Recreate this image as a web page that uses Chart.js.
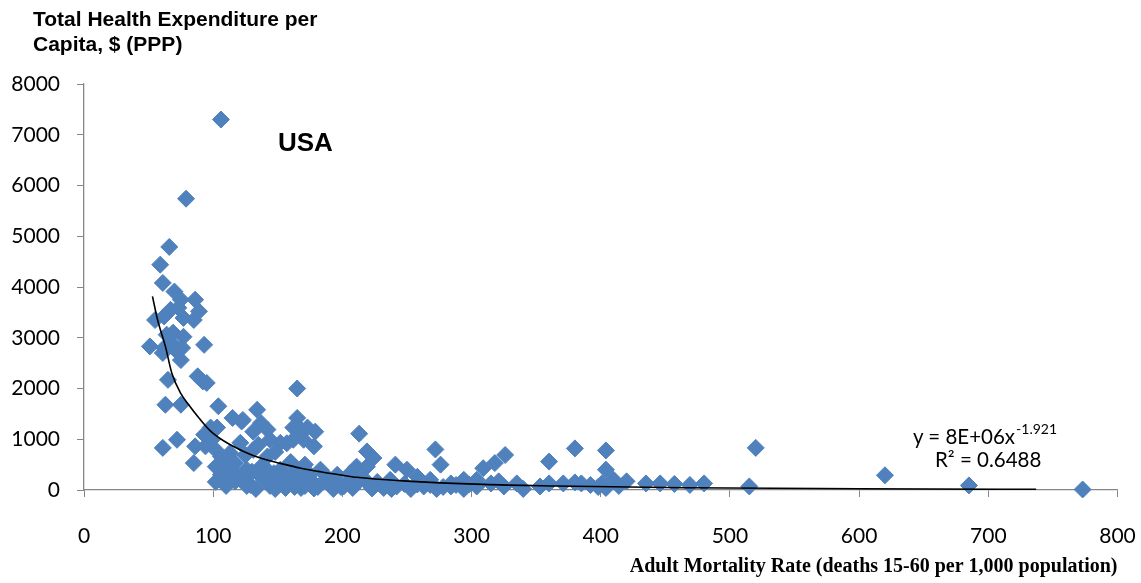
<!DOCTYPE html>
<html>
<head>
<meta charset="utf-8">
<script src="https://cdn.jsdelivr.net/npm/chart.js@4.4.1/dist/chart.umd.min.js"></script>
<style>
  body { margin: 0; background: #fff; }
  #wrap { position: relative; width: 1141px; height: 583px; }
  .lbl { position: absolute; white-space: nowrap; color: #000; }
  #ytitle { left: 33px; top: 7px; font: bold 21px 'Liberation Sans', Arial, sans-serif; line-height: 24.5px; }
  #usa { left: 278px; top: 129px; font: bold 26px 'Liberation Sans', Arial, sans-serif; line-height: 26px; }
  .eq { font: 20.5px Lato, sans-serif; line-height: 22px; }
  .eq sup { font-size: 14px; position: relative; top: -2px; margin-left: 1px; }
</style>
</head>
<body>
<div id="wrap">
  <canvas id="chart" width="1141" height="583"></canvas>
  <div class="lbl" id="ytitle">Total Health Expenditure per<br>Capita, $ (PPP)</div>
  <div class="lbl" id="usa">USA</div>
  <div class="lbl eq" style="left:913px;top:420px">y = 8E+06x<sup>-1.921</sup></div>
  <div class="lbl eq" style="left:935px;top:448px">R² = 0.6488</div>
</div>
<script>
// adult mortality rate (deaths 15-60 per 1,000)
const mortality = [
  106, 79, 66, 59, 61, 70, 75, 86, 89, 85, 67, 73, 55, 62, 77, 64, 69, 77, 51, 62,
  69, 76, 93, 72, 75, 61, 65, 88, 92, 95, 63, 75, 104, 115, 122, 98, 103, 93, 99, 72,
  61, 86, 85, 94, 102, 106, 113, 121, 102, 110, 117, 106, 113, 117, 111, 119, 126, 137, 147, 157,
  168, 178, 188, 196,
  134, 137, 131, 142, 123, 165, 165, 162, 173, 179, 168, 152, 162, 157, 170, 178, 131, 142, 144, 125,
  135, 148, 160, 171, 183, 138, 129, 144, 152, 162, 171, 181, 191, 199, 123, 130,
  213, 219, 224, 211, 206, 219, 201, 211, 222, 232, 241, 250, 242, 253, 258, 260, 263, 268, 273, 272,
  276, 284, 294, 304, 284, 294, 304, 309, 318, 326, 315, 321, 325, 335, 340, 353, 360, 360, 371, 380,
  380, 385, 392, 401, 404, 404, 410, 420, 435, 446, 457, 469, 480, 520, 515, 620, 685, 773, 404, 398, 414,
  140, 152, 164, 175, 187, 156, 168, 126, 115, 206, 216, 227, 237, 102, 110,
  133, 148, 163, 178, 193, 208, 223, 238, 248, 258, 268, 278, 288, 298
];
// total health expenditure per capita, $ (PPP)
const expenditure = [
  7300, 5740, 4790, 4440, 4080, 3910, 3750, 3750, 3520, 3350, 3550, 3590, 3350, 3420, 3390, 3060, 3100, 3020, 2830, 2800,
  2860, 2800, 2860, 2730, 2560, 2700, 2170, 2240, 2140, 2110, 1680, 1680, 1650, 1420, 1350, 1230, 1230, 1090, 990, 990,
  830, 860, 530, 860, 790, 660, 730, 930, 460, 500, 530, 300, 240, 170, 330, 230, 400, 460, 330, 260,
  200, 130, 260, 300,
  1580, 1320, 1150, 1190, 1380, 2000, 1420, 1230, 1230, 1150, 1190, 930, 990, 920, 990, 860, 790, 660, 990, 690,
  890, 750, 550, 500, 400, 240, 100, 80, 160, 120, 80, 60, 140, 60, 240, 360,
  1110, 760, 630, 460, 330, 460, 70, 130, 70, 40, 500, 400, 70, 20, 260, 200, 70, 200, 20, 800,
  500, 130, 200, 200, 70, 20, 70, 430, 530, 690, 130, 170, 70, 130, 20, 70, 560, 130, 130, 820,
  150, 130, 100, 130, 780, 400, 200, 170, 130, 130, 120, 100, 130, 830, 70, 290, 90, 10, 40, 60, 80,
  440, 400, 360, 300, 200, 40, 40, 80, 400, 200, 240, 160, 200, 160, 80,
  20, 20, 60, 30, 20, 40, 30, 20, 120, 110, 100, 60, 100, 110
];
// power trendline as drawn in the picture
const trendX = [53, 57, 63, 68, 75, 81, 89, 98, 108, 124, 137, 152, 168, 183, 199, 211, 247, 309, 366, 464, 600, 737];
const trendY = [3815, 3350, 2830, 2300, 1900, 1680, 1420, 1160, 970, 755, 625, 525, 430, 360, 295, 250, 180, 110, 80, 45, 25, 12];

const xTicks = [0, 100, 200, 300, 400, 500, 600, 700, 800];
const yTicks = [0, 1000, 2000, 3000, 4000, 5000, 6000, 7000, 8000];

const blue = '#4F81BD';
const axisGrey = '#868686';

const points = mortality.map((m, i) => ({ x: m, y: expenditure[i] }));
const trend = trendX.map((t, i) => ({ x: t, y: trendY[i] }));

new Chart(document.getElementById('chart'), {
  type: 'scatter',
  data: {
    datasets: [
      {
        type: 'line', data: trend, order: 0,
        borderColor: '#000', borderWidth: 1.6, pointRadius: 0,
        cubicInterpolationMode: 'monotone', fill: false
      },
      {
        data: points, order: 1, clip: false,
        pointStyle: 'rectRot', pointRadius: 8.5, pointHoverRadius: 8.5,
        backgroundColor: blue, borderColor: blue, borderWidth: 1
      }
    ]
  },
  options: {
    responsive: false,
    animation: false,
    events: [],
    layout: { padding: { top: 84, right: 23.5, left: 0, bottom: 0 } },
    plugins: { legend: { display: false }, tooltip: { enabled: false } },
    scales: {
      x: {
        type: 'linear', min: 0, max: 800,
        afterBuildTicks: s => { s.ticks = xTicks.map(v => ({ value: v })); },
        // fixed box; the big tick padding must not eat horizontal room
        afterFit: s => { s.height = 93; s.paddingLeft = 0; s.paddingRight = 0; },
        ticks: { color: '#000', font: { family: 'Lato', size: 21 }, padding: 27, maxRotation: 0,
                 callback: v => String(v) },
        grid: { drawOnChartArea: false, drawTicks: true, tickLength: 7, color: axisGrey },
        border: { color: axisGrey, width: 1.3 },
        title: {
          display: true, align: 'end',
          text: 'Adult Mortality Rate (deaths 15-60 per 1,000 population)',
          color: '#000', font: { family: 'Liberation Serif', size: 20, weight: 'bold' },
          padding: { top: 0, bottom: 4 }
        }
      },
      y: {
        type: 'linear', min: 0, max: 8000,
        afterBuildTicks: s => { s.ticks = yTicks.map(v => ({ value: v })); },
        afterFit: s => { s.width = 84; },
        ticks: { color: '#000', font: { family: 'Lato', size: 21 }, padding: 17,
                 callback: v => String(v) },
        grid: { drawOnChartArea: false, drawTicks: true, tickLength: 7, color: axisGrey },
        border: { color: axisGrey, width: 1.3 }
      }
    }
  }
});
</script>
</body>
</html>
